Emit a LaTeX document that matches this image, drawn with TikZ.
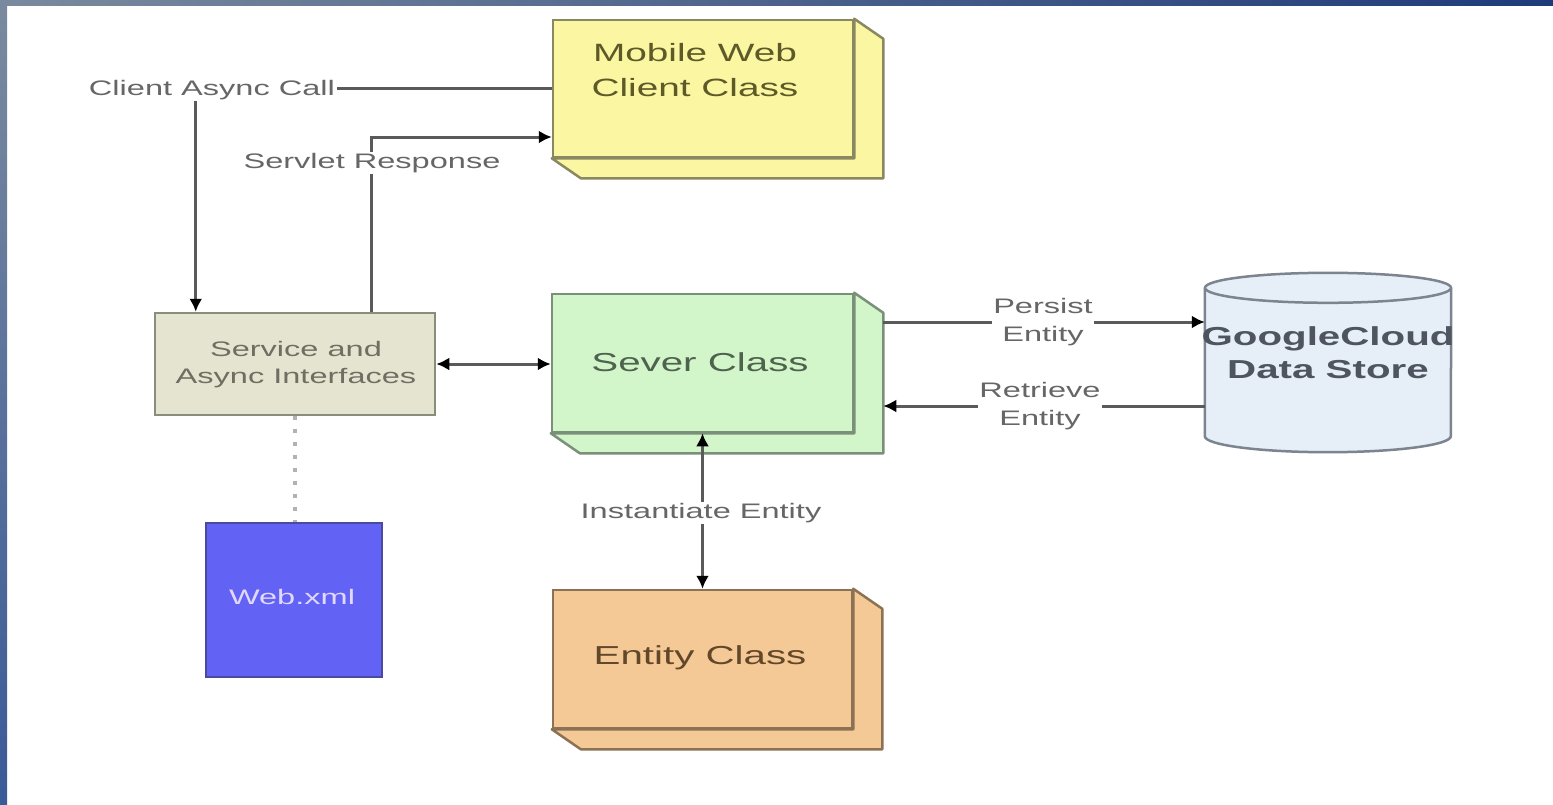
\documentclass[tikz,border=0pt]{standalone}
\usepackage{fontspec}
\setmainfont{Liberation Sans}
\usepackage{graphicx}
\usetikzlibrary{arrows.meta}
\definecolor{mobfill}{HTML}{FAF6A2}
\definecolor{mobdraw}{HTML}{8A8860}
\definecolor{mobtext}{HTML}{5E5A28}
\definecolor{svcfill}{HTML}{E4E4D0}
\definecolor{svcdraw}{HTML}{8A8C7C}
\definecolor{svctext}{HTML}{6E6E62}
\definecolor{sevfill}{HTML}{D2F5CA}
\definecolor{sevdraw}{HTML}{7A907A}
\definecolor{sevtext}{HTML}{4E624E}
\definecolor{entfill}{HTML}{F5C995}
\definecolor{entdraw}{HTML}{8C7254}
\definecolor{enttext}{HTML}{62482A}
\definecolor{webfill}{HTML}{6262F5}
\definecolor{webdraw}{HTML}{4A4AA0}
\definecolor{webtext}{HTML}{E0D8FF}
\definecolor{cylfill}{HTML}{E6EEF8}
\definecolor{cyldraw}{HTML}{7C8490}
\definecolor{cyltext}{HTML}{4E5460}
\definecolor{linecol}{HTML}{5A5A5A}
\definecolor{lbltext}{HTML}{666666}
\definecolor{bordA}{HTML}{7A8A9E}
\definecolor{bordB}{HTML}{1E3A7A}
\definecolor{bordC}{HTML}{3A5A98}
\newcommand\wx[1]{\scalebox{1.55}[1]{#1}}
\newcommand\extrude[3]{%
  \filldraw[fill=#2, draw=#3, line width=2.5pt, line join=round]
    (#1.north east) -- ++(29,20) -- ([shift={(29,20)}]#1.south east)
    -- ([shift={(29,20)}]#1.south west) -- (#1.south west) -- (#1.south east) -- cycle;}
\begin{document}
\begin{tikzpicture}[x=1pt,y=-1pt,
  >={Latex[length=13pt,width=13pt,color=black]},
  box/.style={draw, line width=2.5pt, inner sep=0pt},
  conn/.style={draw=linecol, line width=3pt},
  lbl/.style={fill=white, inner sep=1.5pt, text=lbltext, font=\fontsize{21}{28}\selectfont, align=center},
  big/.style={font=\fontsize{25}{35}\selectfont, align=center},
]
\useasboundingbox (0,0) rectangle (1553,804);
\fill[white] (0,0) rectangle (1553,804);

% boxes
\node[box, fill=mobfill, draw=mobdraw, minimum width=300pt, minimum height=137pt] (mobile) at (703,88.5) {};
\extrude{mobile}{mobfill}{mobdraw}
\node[big, text=mobtext] (mobiletxt) at (695,70) {\wx{Mobile Web}\\\wx{Client Class}};

\node[box, fill=svcfill, draw=svcdraw, minimum width=280pt, minimum height=102pt] (service) at (295,364) {};
\node[text=svctext, font=\fontsize{21}{27}\selectfont, align=center] (servicetxt) at (296,365) {\wx{Service and}\\\wx{Async Interfaces}};

\node[box, fill=sevfill, draw=sevdraw, minimum width=301pt, minimum height=138pt] (sever) at (702.5,363) {};
\extrude{sever}{sevfill}{sevdraw}
\node[text=sevtext, font=\fontsize{26}{32}\selectfont] (severtxt) at (700,362) {\wx{Sever Class}};

\node[box, fill=entfill, draw=entdraw, minimum width=299pt, minimum height=138pt] (entity) at (702.5,659) {};
\extrude{entity}{entfill}{entdraw}
\node[text=enttext, font=\fontsize{26}{32}\selectfont] (entitytxt) at (700,658) {\wx{Entity Class}};

\node[box, fill=webfill, draw=webdraw, minimum width=176pt, minimum height=154pt] (web) at (294,600) {};
\node[text=webtext, font=\fontsize{21}{26}\selectfont] (webtxt) at (292,597) {\wx{Web.xml}};

% data store cylinder
\node[inner sep=0pt, minimum width=246pt, minimum height=148pt] (store) at (1328,362) {};
\fill[cylfill] (store.north west) rectangle (store.south east);
\fill[cylfill] (store.south) ellipse [x radius=123, y radius=16];
\draw[cyldraw, line width=2.5pt] (store.north west) -- (store.south west)
  arc[start angle=180, end angle=0, x radius=123, y radius=16] -- (store.north east);
\draw[cyldraw, fill=cylfill, line width=2.5pt] (store.north) ellipse [x radius=123, y radius=15];
\node[text=cyltext, font=\bfseries\fontsize{26}{33}\selectfont, align=center] (storetxt) at (1328,353) {\wx{GoogleCloud}\\\wx{Data Store}};

% connectors
\draw[conn,->] (mobile.west) -| ([xshift=42pt]service.north west);
\node[lbl] (lblcall) at (212,90) {\wx{Client Async Call}};

\draw[conn,->] ([xshift=218pt]service.north west) |- ([yshift=-48.5pt]mobile.west);
\node[lbl] (lblresp) at (372,163) {\wx{Servlet Response}};

\draw[conn,<->] (service.east) -- (service.east -| sever.west);

\coordinate (sevR) at ([xshift=29pt]sever.east);
\coordinate (p1) at ([yshift=41pt]sevR);
\coordinate (r1) at ([yshift=-43pt]sevR);
\draw[conn,->] (p1) -- (p1 -| store.west);
\node[lbl] (lblpersist) at (1043,322) {\wx{Persist}\\\wx{Entity}};
\draw[conn,->] (r1 -| store.west) -- (r1);
\node[lbl] (lblretr) at (1040,406) {\wx{Retrieve}\\\wx{Entity}};

\draw[conn,<->] (sever.south) -- (entity.north);
\node[lbl] (lblinst) at (701,513) {\wx{Instantiate Entity}};

\draw[draw=gray!60, line width=4pt, dash pattern=on 4pt off 9pt] (service.south) -- (service.south |- web.north);

% border
\shade[left color=bordA, right color=bordB] (0,0) rectangle (1553,5);
\shade[top color=bordA, bottom color=bordC] (0,0) rectangle (7,804);
\end{tikzpicture}
\end{document}
